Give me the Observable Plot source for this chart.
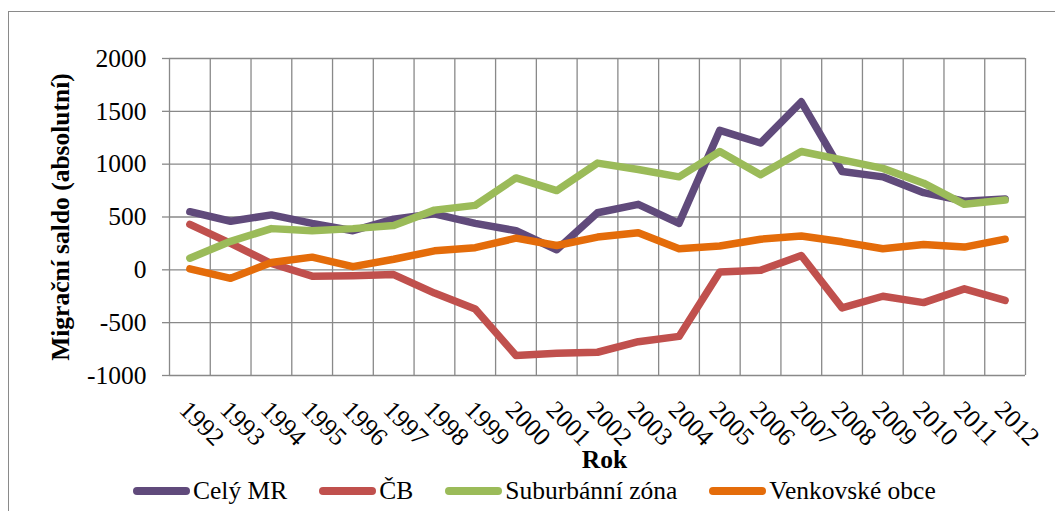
<!DOCTYPE html>
<html>
<head>
<meta charset="utf-8">
<script src="https://cdn.jsdelivr.net/npm/d3@7"></script>
<script src="https://cdn.jsdelivr.net/npm/@observablehq/plot@0.6"></script>
<style>
  html, body { margin: 0; padding: 0; background: #fff; }
  body { width: 1055px; height: 511px; overflow: hidden; position: relative; font-family: 'Liberation Serif'; }
  #frame { position: absolute; left: 8px; top: 11px; width: 1100px; height: 600px; border: 1px solid #8a8a8a; pointer-events: none; }
  #legend { display: flex; align-items: center; margin-left: 133px; gap: 32px; height: 41px; font-family: 'Liberation Serif'; font-size: 25.5px; color: #000; }
  .item { display: flex; align-items: center; }
  .sw { width: 57px; height: 8px; border-radius: 4px; margin-right: 3px; }
  svg text { font-family: 'Liberation Serif'; }
</style>
</head>
<body>
<div id="chart"></div>
<div id="legend"></div>
<div id="frame"></div>
<script>
const years = [1992,1993,1994,1995,1996,1997,1998,1999,2000,2001,2002,2003,2004,2005,2006,2007,2008,2009,2010,2011,2012];
const seriesNames = ["Celý MR", "ČB", "Suburbánní zóna", "Venkovské obce"];
const seriesColors = ["#604A7B", "#C0504D", "#9BBB59", "#E46C0A"];
const celyMR = [550,460,520,440,370,480,530,440,370,190,540,620,440,1320,1200,1590,930,880,730,650,670];
const cb = [430,250,60,-60,-55,-45,-220,-370,-810,-790,-780,-680,-630,-20,-5,135,-360,-250,-310,-180,-290];
const suburbanni = [110,270,390,370,390,420,565,610,870,750,1010,950,880,1120,900,1120,1040,960,820,620,660];
const venkovske = [10,-80,70,120,30,100,180,210,300,230,310,350,200,225,290,320,265,200,240,215,290];
const yTicks = [-1000,-500,0,500,1000,1500,2000];
const xTitle = "Rok";
const yTitle = "Migrační saldo (absolutní)";

const seriesValues = [celyMR, cb, suburbanni, venkovske];
const data = seriesNames.flatMap((name, i) => years.map((yr, j) => ({series: name, year: yr, value: seriesValues[i][j]})));
const boundaries = years.map(y => y - 0.5).concat([years[years.length - 1] + 0.5]);

const font = "'Liberation Serif'";
const grid = "#898989";
const chart = Plot.plot({
  width: 1055,
  height: 470,
  marginLeft: 169,
  marginRight: 30,
  marginTop: 58,
  marginBottom: 95,
  style: {fontFamily: font, fontSize: "25.5px", background: "transparent", color: "#000", overflow: "visible"},
  x: {type: "linear", domain: [years[0] - 0.5, years[years.length - 1] + 0.5], axis: null},
  y: {domain: [-1000, 2000]},
  color: {domain: seriesNames, range: seriesColors},
  marks: [
    Plot.ruleY(yTicks, {stroke: grid, strokeWidth: 1.3, strokeOpacity: 1}),
    Plot.ruleX(boundaries, {stroke: grid, strokeWidth: 1.3, strokeOpacity: 1}),
    Plot.axisY({ticks: yTicks, tickSize: 7, tickPadding: 16, stroke: grid, strokeWidth: 1.3, tickFormat: d => String(d), label: null, fill: "#000", fontFamily: font, fontSize: 25.5}),
    Plot.line(data, {x: "year", y: "value", z: "series", stroke: "series", strokeWidth: 7.5, strokeLinejoin: "round", strokeLinecap: "round"}),
    Plot.text(years, {x: d => d, frameAnchor: "bottom", dx: 1, dy: 23, rotate: 45, textAnchor: "start", lineAnchor: "top", text: d => String(d), fill: "#000", fontFamily: font, fontSize: 25.5}),
    Plot.text([xTitle], {frameAnchor: "bottom", dx: 7, dy: 92, lineAnchor: "bottom", text: d => d, fontWeight: "bold", fill: "#000", fontFamily: font, fontSize: 25.5}),
    Plot.text([yTitle], {frameAnchor: "left", dx: -109, rotate: -90, textAnchor: "middle", lineAnchor: "middle", text: d => d, fontWeight: "bold", fill: "#000", fontFamily: font, fontSize: 25.5})
  ]
});
document.getElementById("chart").appendChild(chart);

const legend = document.getElementById("legend");
seriesNames.forEach((name, i) => {
  const item = document.createElement("div");
  item.className = "item";
  const sw = document.createElement("span");
  sw.className = "sw";
  sw.style.background = seriesColors[i];
  const label = document.createElement("span");
  label.textContent = name;
  item.appendChild(sw);
  item.appendChild(label);
  legend.appendChild(item);
});
</script>
</body>
</html>
